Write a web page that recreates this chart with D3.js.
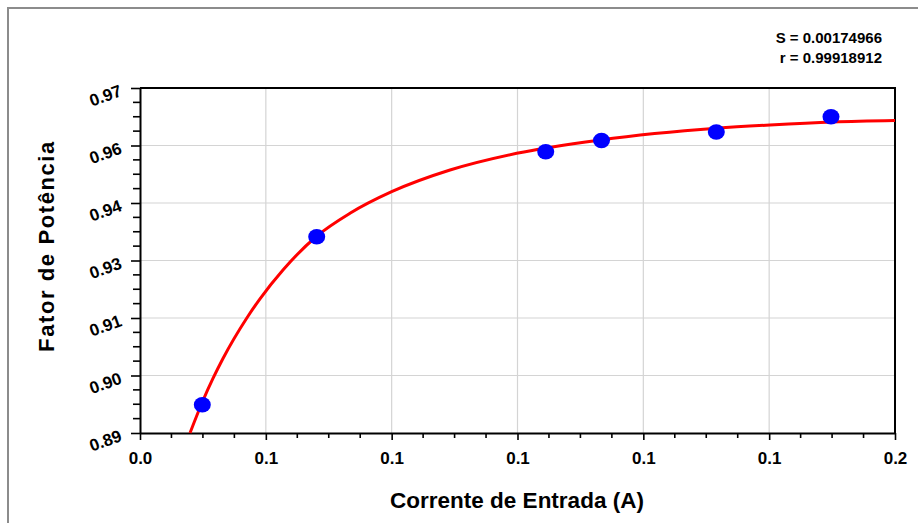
<!DOCTYPE html>
<html>
<head>
<meta charset="utf-8">
<script src="https://cdn.jsdelivr.net/npm/d3@7"></script>
<style>
  html, body { margin: 0; padding: 0; background: #ffffff; }
  svg { display: block; }
  text { font-family: "Liberation Sans", Arial, sans-serif; font-weight: bold; fill: #000; }
</style>
</head>
<body>
<svg id="chart" width="918" height="523"></svg>
<script>
// Measured power factor against input current
const current = [0.04916, 0.06598, 0.09965, 0.10785, 0.12473, 0.14159];
const powerFactor = [0.89424, 0.93427, 0.95452, 0.95719, 0.95922, 0.96286];

// Fitted curve, sampled along its length
const fitCurrent = [0.04735, 0.04926, 0.05073, 0.05220, 0.05573, 0.05764, 0.06102, 0.06602, 0.07087,
                    0.07700, 0.08558, 0.09538, 0.10763, 0.12479, 0.13262, 0.14193, 0.151];
const fitPowerFactor = [0.8875, 0.89524, 0.90049, 0.90525, 0.91497, 0.91947, 0.92634, 0.93444, 0.93985,
                        0.94499, 0.95016, 0.95414, 0.95731, 0.96010, 0.96088, 0.96160, 0.96195];

// Axis ticks and their printed labels
const xTicks = [0.04, 0.0585, 0.077, 0.0955, 0.114, 0.1325, 0.151];
const xTickLabels = ["0.0", "0.1", "0.1", "0.1", "0.1", "0.1", "0.2"];
const yTicks = [0.8875, 0.9012, 0.9149, 0.9286, 0.9423, 0.956, 0.9697];
const yTickLabels = ["0.89", "0.90", "0.91", "0.93", "0.94", "0.96", "0.97"];

const fitStats = ["S = 0.00174966", "r = 0.99918912"];

const svg = d3.select("#chart");
const plotLeft = 140, plotRight = 895, plotTop = 88, plotBottom = 433;

const x = d3.scaleLinear().domain([xTicks[0], xTicks[xTicks.length - 1]]).range([plotLeft, plotRight]);
const y = d3.scaleLinear().domain([yTicks[0], yTicks[yTicks.length - 1]]).range([plotBottom, plotTop]);

// Outer frame
svg.append("rect")
  .attr("x", 8).attr("y", 8).attr("width", 930).attr("height", 540)
  .attr("fill", "none").attr("stroke", "#8c8c8c").attr("stroke-width", 2);

// Grid
const grid = svg.append("g").attr("stroke", "#d4d4d4").attr("stroke-width", 1.2);
grid.selectAll("line.gx").data(xTicks.slice(1, -1)).join("line")
  .attr("x1", d => x(d)).attr("x2", d => x(d)).attr("y1", plotTop).attr("y2", plotBottom);
grid.selectAll("line.gy").data(yTicks.slice(1, -1)).join("line")
  .attr("x1", plotLeft).attr("x2", plotRight).attr("y1", d => y(d)).attr("y2", d => y(d));

// Minor ticks: three between each pair of major ticks
function minors(ticks) {
  const out = [];
  for (let i = 0; i < ticks.length - 1; i++) {
    const step = (ticks[i + 1] - ticks[i]) / 4;
    for (let k = 1; k < 4; k++) out.push(ticks[i] + k * step);
  }
  return out;
}

// Bottom axis
const xAxis = svg.append("g").attr("transform", `translate(0,${plotBottom})`)
  .call(d3.axisBottom(x).tickValues(xTicks).tickSizeInner(7).tickSizeOuter(0).tickPadding(12)
    .tickFormat((d, i) => xTickLabels[i]));
xAxis.select(".domain").attr("stroke-width", 2);
xAxis.selectAll(".tick line").attr("stroke-width", 1.6);
xAxis.selectAll(".tick text").attr("font-size", 17).attr("font-family", "Liberation Sans, Arial, sans-serif")
  .attr("font-weight", "bold");
xAxis.selectAll("line.minor").data(minors(xTicks)).join("line").attr("class", "minor")
  .attr("x1", d => x(d)).attr("x2", d => x(d)).attr("y1", 0).attr("y2", 5)
  .attr("stroke", "#000").attr("stroke-width", 1.6);

// Left axis, labels tilted
const yAxis = svg.append("g").attr("transform", `translate(${plotLeft},0)`)
  .call(d3.axisLeft(y).tickValues(yTicks).tickSizeInner(9).tickSizeOuter(0)
    .tickFormat((d, i) => yTickLabels[i]));
yAxis.select(".domain").attr("stroke-width", 2);
yAxis.selectAll(".tick line").attr("stroke-width", 1.6);
yAxis.selectAll(".tick text")
  .attr("font-size", 17).attr("font-family", "Liberation Sans, Arial, sans-serif").attr("font-weight", "bold")
  .attr("x", -17).attr("y", 7).attr("dy", 0).attr("text-anchor", "end")
  .attr("transform", "rotate(-20,-17,7)");
yAxis.selectAll("line.minor").data(minors(yTicks)).join("line").attr("class", "minor")
  .attr("x1", -7).attr("x2", 0).attr("y1", d => y(d)).attr("y2", d => y(d))
  .attr("stroke", "#000").attr("stroke-width", 1.6);

// Top and right frame of the plot
svg.append("path")
  .attr("d", `M${plotLeft},${plotTop}H${plotRight}V${plotBottom}`)
  .attr("fill", "none").attr("stroke", "#000").attr("stroke-width", 2);

// Fitted curve
const fitData = fitCurrent.map((c, i) => [c, fitPowerFactor[i]]);
svg.append("path")
  .datum(fitData)
  .attr("d", d3.line().x(d => x(d[0])).y(d => y(d[1])).curve(d3.curveMonotoneX))
  .attr("fill", "none").attr("stroke", "#ff0000").attr("stroke-width", 3);

// Measured points
svg.append("g").selectAll("ellipse")
  .data(current.map((c, i) => [c, powerFactor[i]]))
  .join("ellipse")
  .attr("cx", d => x(d[0])).attr("cy", d => y(d[1]))
  .attr("rx", 8.5).attr("ry", 7.8)
  .attr("fill", "#0000ff");

// Axis titles
svg.append("text")
  .attr("x", 517).attr("y", 508)
  .attr("text-anchor", "middle").attr("font-size", 22.5)
  .text("Corrente de Entrada (A)");
svg.append("text")
  .attr("transform", "translate(54,246) rotate(-90)")
  .attr("text-anchor", "middle").attr("font-size", 22).attr("letter-spacing", 1.6)
  .text("Fator de Potência");

// Fit statistics
svg.append("g").selectAll("text").data(fitStats).join("text")
  .attr("x", 882).attr("y", (d, i) => 43 + i * 20)
  .attr("text-anchor", "end").attr("font-size", 15)
  .style("font-family", "'Liberation Sans Narrow', 'Arial Narrow', sans-serif")
  .text(d => d);
</script>
</body>
</html>
